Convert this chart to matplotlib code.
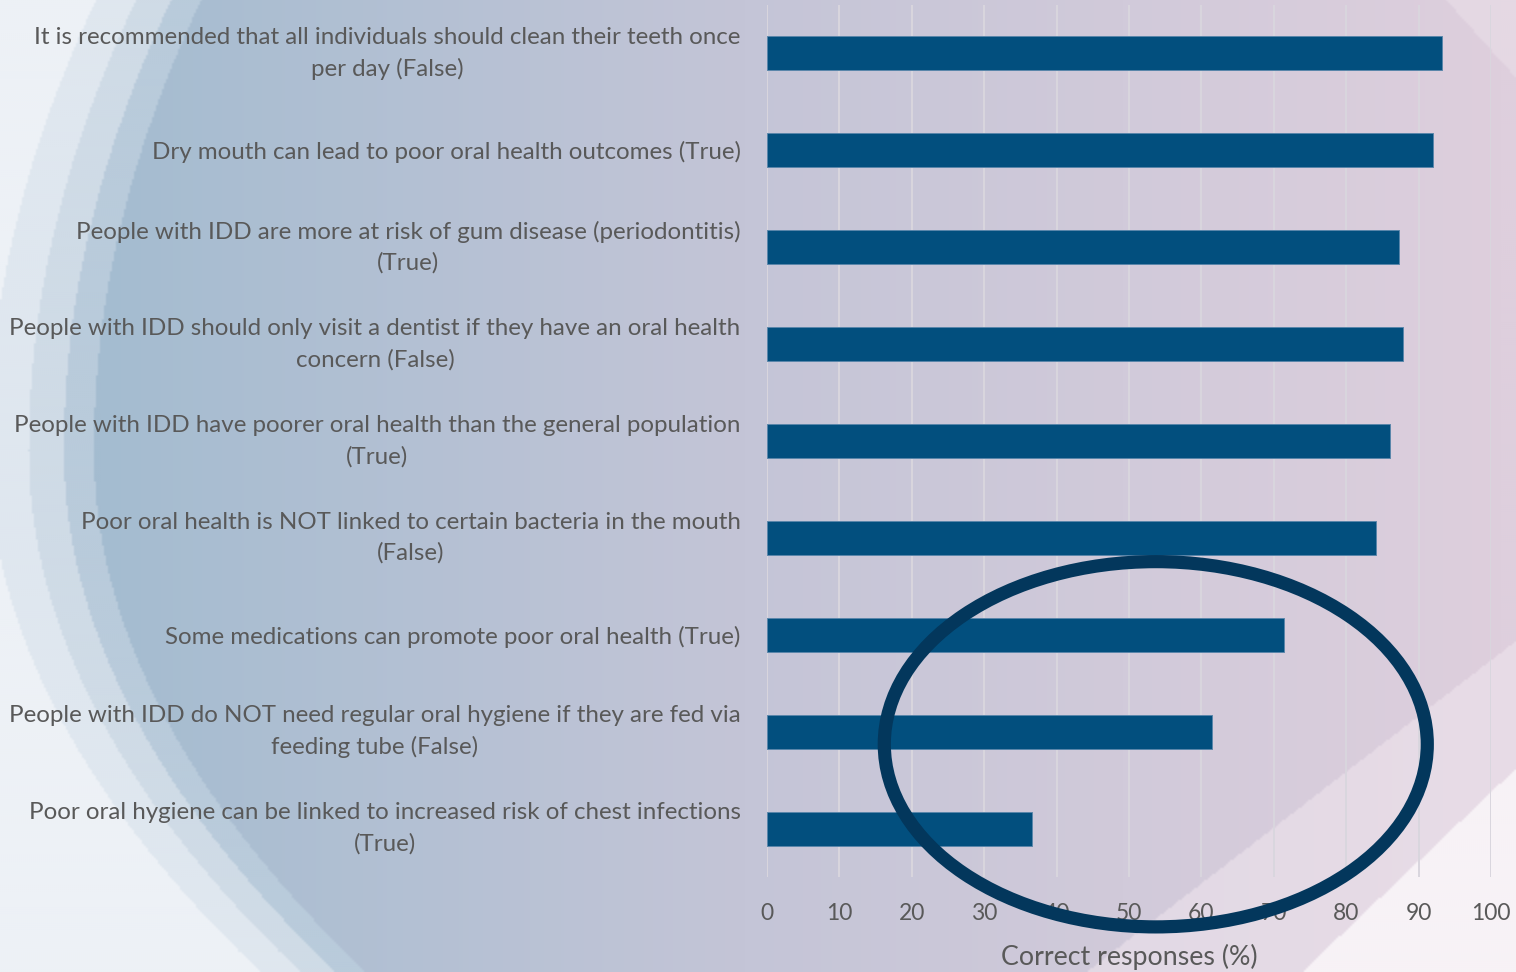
import numpy as np
import matplotlib
matplotlib.use("Agg")
import matplotlib.pyplot as plt
from matplotlib.patches import Ellipse

# statements (top to bottom) and share of correct answers
statements = [
    "It is recommended that all individuals should clean their teeth once\nper day (False)",
    "Dry mouth can lead to poor oral health outcomes (True)",
    "People with IDD are more at risk of gum disease (periodontitis)\n(True)",
    "People with IDD should only visit a dentist if they have an oral health\nconcern (False)",
    "People with IDD have poorer oral health than the general population\n(True)",
    "Poor oral health is NOT linked to certain bacteria in the mouth\n(False)",
    "Some medications can promote poor oral health (True)",
    "People with IDD do NOT need regular oral hygiene if they are fed via\nfeeding tube (False)",
    "Poor oral hygiene can be linked to increased risk of chest infections\n(True)",
]
correct_pct = [93.2, 92.0, 87.3, 87.8, 86.0, 84.1, 71.4, 61.5, 36.6]
x_ticks = [0, 10, 20, 30, 40, 50, 60, 70, 80, 90, 100]

plt.rcParams['font.family'] = ['Lato', 'DejaVu Sans']
txt = '#595959'

W, H = 1516, 972
fig = plt.figure(figsize=(W / 100, H / 100), dpi=100)

# background: blue -> pink wash with light arcs at left and swoosh at bottom right
yy, xx = np.mgrid[0:H:2, 0:W:2].astype(float)
t = np.clip((xx - 100) / 1400, 0, 1)[..., None]
c_left = np.array([164, 188, 208]) / 255
c_mid = np.array([196, 197, 215]) / 255
c_right = np.array([222, 207, 221]) / 255
img = np.where(t < 0.46, c_left + (c_mid - c_left) * (t / 0.46),
               c_mid + (c_right - c_mid) * ((t - 0.46) / 0.54))
# left arcs
xb = np.where(yy < 450, 93 + 5.3e-4 * (450 - yy) ** 2, 93 + 1.0e-3 * (yy - 450) ** 2)
d = xx - xb
bands = [(-30, 0, [185, 203, 219]), (-65, -30, [207, 219, 230]),
         (-105, -65, [223, 231, 239]), (-9999, -105, [237, 241, 246])]
for lo, hi, col in bands:
    m = (d >= lo) & (d < hi)
    img[m] = np.array(col) / 255
# bottom-right swoosh
m1 = yy > 883 - 0.77 * (xx - 1200)
img[m1] = img[m1] * 0.45 + np.array([240, 230, 238]) / 255 * 0.55
m2 = yy > 972 - 0.95 * (xx - 1300)
img[m2] = np.array([247, 242, 246]) / 255
# top-right light streak
m3 = (xx > 1445 + 0.9 * yy) & (yy < 120)
img[m3] = img[m3] * 0.5 + np.array([236, 226, 234]) / 255 * 0.5

bg = fig.add_axes([0, 0, 1, 1], zorder=0)
bg.imshow(img, extent=[0, W, H, 0], aspect='auto', interpolation='bilinear')
bg.axis('off')

ax = fig.add_axes([767 / W, 1 - 877 / H, (1491 - 767) / W, (877 - 5) / H], zorder=1)
ax.set_facecolor('none')

ypos = np.arange(len(statements))
ax.barh(ypos, correct_pct, height=0.35, color='#024f7e', edgecolor='#5a86aa', linewidth=0.7, zorder=3)

ax.set_xlim(0, 100)
ax.set_ylim(len(statements) - 0.5, -0.5)
ax.set_xticks(x_ticks)
ax.set_yticks(ypos)
ax.set_yticklabels(statements)
for lab in ax.get_yticklabels():
    lab.set_multialignment('center')
    lab.set_linespacing(1.56)
    if '\n' in lab.get_text():
        lab.set_verticalalignment('center')
ax.tick_params(axis='y', length=0, labelsize=17.4, colors=txt, pad=19)
ax.tick_params(axis='x', length=0, labelsize=16.5, colors=txt, pad=19)
ax.grid(axis='x', color='#d9d6de', linewidth=1.4, zorder=0)
ax.set_axisbelow(True)
for s in ax.spines.values():
    s.set_visible(False)
ax.set_xlabel('Correct responses (%)', fontsize=19.3, color=txt, labelpad=14)

# highlight ring around the lowest scores
ring = Ellipse((53.7, 7.13), 75.0, 3.77, fill=False, edgecolor='#03375c',
               linewidth=9.5, clip_on=False, zorder=6)
ax.add_patch(ring)

fig.savefig('out.png', dpi=100)
